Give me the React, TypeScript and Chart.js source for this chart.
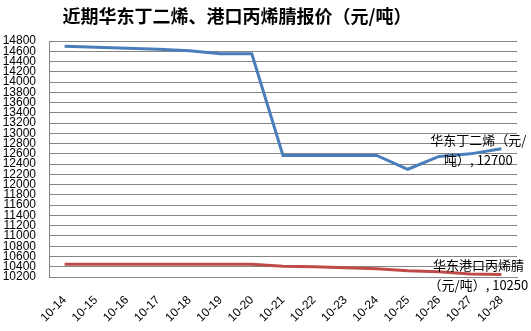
import React, { useEffect, useRef } from "react";
import { Chart, registerables } from "chart.js";

Chart.register(...registerables);

const categories = ["10-14", "10-15", "10-16", "10-17", "10-18", "10-19", "10-20", "10-21", "10-22", "10-23", "10-24", "10-25", "10-26", "10-27", "10-28"];
const butadiene = [14700, 14680, 14660, 14640, 14610, 14550, 14550, 12570, 12570, 12570, 12570, 12300, 12550, 12600, 12700];
const acrylonitrile = [10450, 10450, 10450, 10450, 10450, 10450, 10450, 10410, 10400, 10380, 10360, 10320, 10300, 10260, 10250];
const seriesNames = ["华东丁二烯（元/吨）", "华东港口丙烯腈（元/吨）"];
const labelLines = [
  ["华东丁二烯（元/", "吨）, 12700"],
  ["华东港口丙烯腈", "（元/吨）, 10250"],
];
const titleText = "近期华东丁二烯、港口丙烯腈报价（元/吨）";

const FONT = "'Liberation Sans', Arial, sans-serif";
const CJK = "'Noto Sans CJK SC', 'Liberation Sans', sans-serif";

const overlayPlugin = {
  id: "overlay",
  afterDraw(chart: any) {
    const ctx = chart.ctx;
    ctx.save();
    ctx.fillStyle = "#000";
    ctx.font = `bold 18px ${CJK}`;
    ctx.textAlign = "center";
    ctx.textBaseline = "middle";
    ctx.fillText(titleText, 237, 16);
    ctx.font = `13px ${CJK}`;
    chart.data.datasets.forEach((ds: any, i: number) => {
      const meta = chart.getDatasetMeta(i);
      const pt = meta.data[meta.data.length - 1];
      if (!pt) return;
      const lines = labelLines[i];
      ctx.fillText(lines[0], pt.x - 23, pt.y - 9);
      ctx.fillText(lines[1], pt.x - 23, pt.y + 11);
    });
    ctx.restore();
  },
};

export default function App() {
  const ref = useRef<HTMLCanvasElement>(null);
  useEffect(() => {
    if (!ref.current) return;
    const chart = new Chart(ref.current, {
      type: "line",
      data: {
        labels: categories,
        datasets: [
          {
            label: seriesNames[0],
            data: butadiene,
            borderColor: "#4a7ebb",
            backgroundColor: "#4a7ebb",
            borderWidth: 3,
            pointRadius: 0,
            tension: 0,
          },
          {
            label: seriesNames[1],
            data: acrylonitrile,
            borderColor: "#be4b48",
            backgroundColor: "#be4b48",
            borderWidth: 3,
            pointRadius: 0,
            tension: 0,
          },
        ],
      },
      options: {
        animation: false,
        responsive: false,
        devicePixelRatio: 1,
        layout: { padding: { top: 41, right: 14, bottom: 0, left: 0 } },
        plugins: {
          legend: { display: false },
          title: { display: false },
          tooltip: { enabled: false },
        },
        scales: {
          x: {
            offset: true,
            grid: { display: false },
            border: { display: true, color: "#868686" },
            ticks: {
              autoSkip: false,
              minRotation: 45,
              maxRotation: 45,
              color: "#000",
              padding: 8,
              font: { family: FONT, size: 12 },
            },
            afterFit: (s: any) => {
              s.height = 54;
            },
          },
          y: {
            min: 10200,
            max: 14800,
            grid: { color: "#868686", drawTicks: false, lineWidth: 1 },
            border: { display: true, color: "#868686" },
            ticks: {
              stepSize: 200,
              autoSkip: false,
              color: "#000",
              padding: 13,
              font: { family: FONT, size: 12 },
              callback: (v: any) => String(v),
            },
            afterFit: (s: any) => {
              s.width = 49;
            },
          },
        },
      },
      plugins: [overlayPlugin],
    });
    return () => chart.destroy();
  }, []);
  return (
    <div style={{ position: "absolute", left: 0, top: 0, width: 531, height: 331, background: "#fff" }}>
      <canvas ref={ref} width={531} height={331} />
    </div>
  );
}
